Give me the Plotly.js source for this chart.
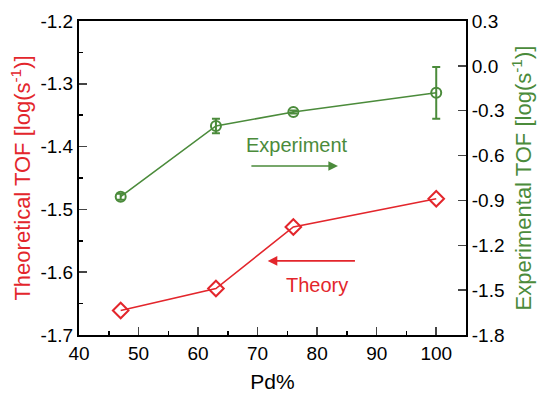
<!DOCTYPE html>
<html>
<head>
<meta charset="utf-8">
<script src="https://cdn.plot.ly/plotly-3.0.1.min.js"></script>
<style>html,body{margin:0;padding:0;background:#fff;}#plot{width:540px;height:393px;}</style>
</head>
<body>
<div id="plot"></div>
<script>
const pd = [47, 63, 76, 100];
const theoryTOF = [-1.661, -1.626, -1.528, -1.483];
const expTOF = [-0.875, -0.402, -0.309, -0.18];
const expErr = [0.02, 0.048, 0.01, 0.173];
const xTicks = [40, 50, 60, 70, 80, 90, 100];
const yLeftTicks = [-1.2, -1.3, -1.4, -1.5, -1.6, -1.7];
const yLeftLabels = ['-1.2', '-1.3', '-1.4', '-1.5', '-1.6', '-1.7'];
const yRightTicks = [0.3, 0.0, -0.3, -0.6, -0.9, -1.2, -1.5, -1.8];
const yRightLabels = ['0.3', '0.0', '-0.3', '-0.6', '-0.9', '-1.2', '-1.5', '-1.8'];

const RED = '#e3262c';
const GREEN = '#4b8b3b';
const FONT = 'Liberation Sans, Arial, sans-serif';

const traces = [
  {
    x: pd, y: theoryTOF, type: 'scatter', mode: 'lines+markers',
    line: {color: RED, width: 1.6},
    marker: {symbol: 'diamond-open', size: 12, color: RED, line: {width: 2, color: RED}},
    yaxis: 'y', showlegend: false, cliponaxis: false
  },
  {
    x: pd, y: expTOF, type: 'scatter', mode: 'lines+markers',
    line: {color: GREEN, width: 1.6},
    marker: {symbol: 'circle-open', size: 10, color: GREEN, line: {width: 2, color: GREEN}},
    error_y: {type: 'data', array: expErr, visible: true, color: GREEN, thickness: 2, width: 4},
    yaxis: 'y2', showlegend: false, cliponaxis: false
  }
];

const layout = {
  width: 540, height: 393,
  margin: {l: 79, r: 74, t: 21, b: 58},
  paper_bgcolor: '#fff', plot_bgcolor: '#fff',
  font: {family: FONT, size: 19, color: '#000'},
  xaxis: {
    range: [40, 105], tickvals: xTicks, ticks: 'inside', ticklen: 8, tickwidth: 1.5,
    showline: true, linewidth: 2, linecolor: '#000', mirror: true, showgrid: false, zeroline: false,
    minor: {dtick: 5, tick0: 45, ticks: 'inside', ticklen: 4, tickwidth: 1.5, tickcolor: '#000', showgrid: false},
    tickfont: {size: 19, color: '#000'},
    title: {text: 'Pd%', font: {size: 21, color: '#000'}, standoff: 14}
  },
  yaxis: {
    range: [-1.7, -1.2], tickvals: yLeftTicks, ticktext: yLeftLabels, ticks: 'inside', ticklen: 8, tickwidth: 1.5,
    showline: true, linewidth: 2, linecolor: '#000', showgrid: false, zeroline: false,
    minor: {dtick: 0.05, tick0: -1.25, ticks: 'inside', ticklen: 4, tickwidth: 1.5, tickcolor: '#000', showgrid: false},
    tickfont: {size: 19, color: '#000'},
    title: {text: 'Theoretical TOF [log(s<sup>-1</sup>)]', font: {size: 22, color: RED}, standoff: 4}
  },
  yaxis2: {
    range: [-1.8, 0.3], overlaying: 'y', side: 'right', anchor: 'x',
    tickvals: yRightTicks, ticktext: yRightLabels, ticks: 'inside', ticklen: 8, tickwidth: 1.5,
    showline: true, linewidth: 2, linecolor: '#000', showgrid: false, zeroline: false,
    tickfont: {size: 19, color: '#000'},
    title: {text: 'Experimental TOF [log(s<sup>-1</sup>)]', font: {size: 22, color: GREEN}, standoff: 12}
  },
  annotations: [
    {x: 76.6, y: -1.397, xref: 'x', yref: 'y', text: 'Experiment', showarrow: false,
     font: {size: 20, color: GREEN, family: FONT}},
    {x: 83.5, y: -1.431, ax: 68.7, ay: -1.431, xref: 'x', yref: 'y', axref: 'x', ayref: 'y',
     text: '', showarrow: true, arrowhead: 2, arrowsize: 1.2, arrowwidth: 1.6, arrowcolor: GREEN},
    {x: 80.0, y: -1.620, xref: 'x', yref: 'y', text: 'Theory', showarrow: false,
     font: {size: 20, color: RED, family: FONT}},
    {x: 71.7, y: -1.582, ax: 86.6, ay: -1.582, xref: 'x', yref: 'y', axref: 'x', ayref: 'y',
     text: '', showarrow: true, arrowhead: 2, arrowsize: 1.2, arrowwidth: 1.6, arrowcolor: RED}
  ]
};

Plotly.newPlot('plot', traces, layout, {displayModeBar: false, staticPlot: true});
</script>
</body>
</html>
